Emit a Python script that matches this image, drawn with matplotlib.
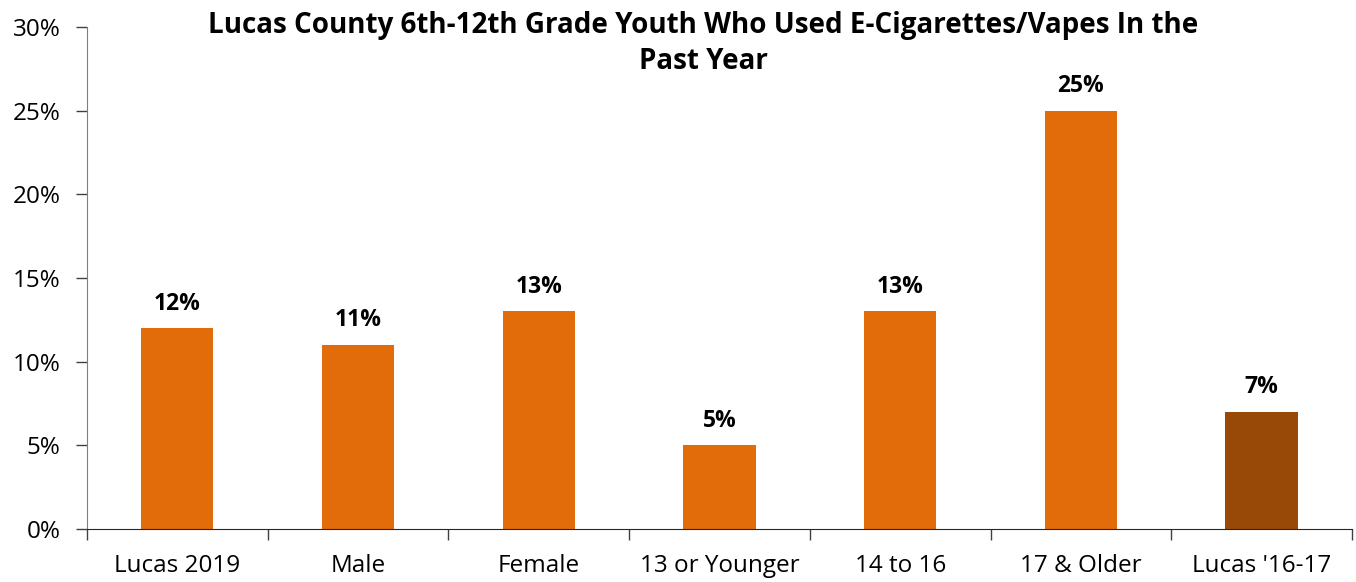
import matplotlib
matplotlib.use("Agg")
import matplotlib.pyplot as plt
import numpy as np
from matplotlib.ticker import FixedLocator, PercentFormatter

categories = ["Lucas 2019", "Male", "Female", "13 or Younger", "14 to 16", "17 & Older", "Lucas '16-17"]
values = [12, 11, 13, 5, 13, 25, 7]
colors = ["#E36C0A"] * 6 + ["#984807"]
yticks = [0, 5, 10, 15, 20, 25, 30]

plt.rcParams['font.family'] = ['Open Sans', 'DejaVu Sans']

W, H = 1356, 582
fig = plt.figure(figsize=(W / 100, H / 100), dpi=100)
left, right, bottom, top = 87, 1352, 529, 27
ax = fig.add_axes([left / W, 1 - bottom / H, (right - left) / W, (bottom - top) / H])

x = np.arange(len(categories))
ax.bar(x, values, width=0.4, color=colors, zorder=2)
for xi, v in zip(x, values):
    ax.text(xi, v + 0.75, f"{v}%", ha="center", va="bottom", fontsize=16.5, fontweight="bold", color="black")

ax.set_xlim(-0.5, len(categories) - 0.5)
ax.set_ylim(0, 30)
ax.set_yticks(yticks)
ax.yaxis.set_major_formatter(PercentFormatter(decimals=0))
ax.set_xticks(x)
ax.set_xticklabels(categories)
ax.xaxis.set_minor_locator(FixedLocator(np.arange(-0.5, len(categories), 1.0)))
ax.tick_params(axis="x", which="major", length=0, labelsize=17.5, pad=18)
ax.tick_params(axis="x", which="minor", length=8, width=1, color="#404040", direction="out")
ax.tick_params(axis="y", which="major", length=8, width=1, color="#404040", labelsize=17.5, pad=11)

for s in ["top", "right"]:
    ax.spines[s].set_visible(False)
ax.spines["left"].set_color("#7f7f7f")
ax.spines["bottom"].set_color("#262626")

fig.text(703 / W, 1 - 11 / H, "Lucas County 6th-12th Grade Youth Who Used E-Cigarettes/Vapes In the\nPast Year",
         ha="center", va="top", fontsize=20, fontweight="bold", linespacing=1.3)

fig.savefig("out.png", dpi=100)
